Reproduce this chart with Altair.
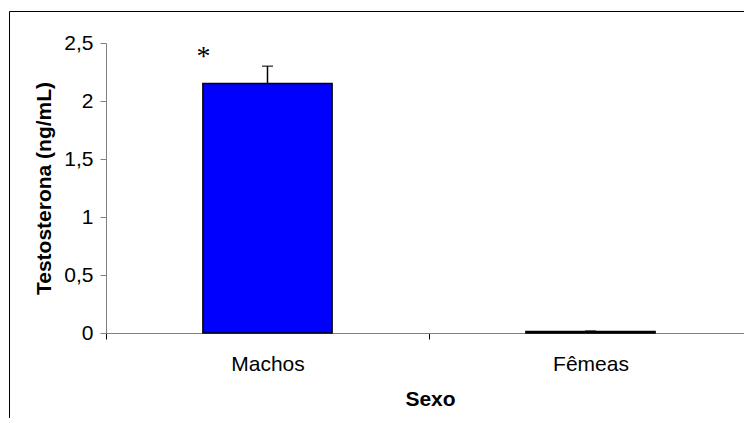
import altair as alt
import pandas as pd

categories = ["Machos", "Fêmeas"]
means = [2.15, 0.012]
errors = [0.15, 0.005]
significance = ["*", ""]
y_ticks = [0, 0.5, 1, 1.5, 2, 2.5]

df = pd.DataFrame({
    "Sexo": categories,
    "mean": means,
    "err": errors,
    "sig": significance,
})
df["upper"] = df["mean"] + df["err"]
df["sig_y"] = df["upper"] + 0.08

font = "Liberation Sans"
# the axis runs past the right edge of the window, as in the reference
x_scale = alt.Scale(paddingInner=0, paddingOuter=0, range=[0, 646])

x_enc = alt.X(
    "Sexo:N",
    sort=categories,
    scale=x_scale,
    axis=alt.Axis(
        title="Sexo",
        titleX=324,
        labelAngle=0,
        tickBand="extent",
        domainColor="#808080",
        tickColor="#000000",
        tickSize=6,
        labelPadding=14,
        labelFontSize=21,
        labelFont=font,
        labelColor="#000000",
        titleFont=font,
        titleFontSize=21,
        titleFontWeight="bold",
        titlePadding=14,
        titleColor="#000000",
    ),
)

y_scale = alt.Scale(domain=[0, 2.5], nice=False)

bars = alt.Chart(df).mark_bar(
    color="#0000FF", stroke="#000000", strokeWidth=1.5, width={"band": 0.4}
).encode(
    x=x_enc,
    y=alt.Y(
        "mean:Q",
        scale=y_scale,
        axis=alt.Axis(
            title="Testosterona (ng/mL)",
            values=y_ticks,
            grid=False,
            labelExpr="replace(toString(datum.value), '.', ',')",
            domainColor="#808080",
            tickColor="#808080",
            tickSize=6,
            labelPadding=7,
            labelFontSize=21,
            labelFont=font,
            labelColor="#000000",
            titleFont=font,
            titleFontSize=21,
            titleFontWeight="bold",
            titlePadding=9,
            titleColor="#000000",
        ),
    ),
)

err_rule = alt.Chart(df).mark_rule(color="#000000", strokeWidth=1.5).encode(
    x=alt.X("Sexo:N", sort=categories, scale=x_scale),
    y=alt.Y("mean:Q", scale=y_scale),
    y2="upper:Q",
)

err_cap = alt.Chart(df).mark_tick(
    color="#000000", thickness=1.5, size=11, orient="horizontal"
).encode(
    x=alt.X("Sexo:N", sort=categories, scale=x_scale),
    y=alt.Y("upper:Q", scale=y_scale),
)

star = alt.Chart(df).mark_text(
    font="Liberation Serif", fontSize=28, dx=-64, baseline="middle", color="#000000"
).encode(
    x=alt.X("Sexo:N", sort=categories, scale=x_scale),
    y=alt.Y("sig_y:Q", scale=y_scale),
    text="sig:N",
)

frame = alt.Chart(df.head(1)).mark_rect(
    fill=None, stroke="#000000", strokeWidth=1
).encode(
    x=alt.value(-96.5),
    x2=alt.value(900),
    y=alt.value(-31.5),
    y2=alt.value(600),
)

chart = alt.layer(frame, bars, err_rule, err_cap, star).properties(
    width=638,
    height=290,
    autosize=alt.AutoSizeParams(type="none"),
    padding={"left": 98, "top": 35, "right": 0, "bottom": 85},
    background="#ffffff",
).configure_view(stroke=None)

chart.save("out.html", embed_options={"renderer": "svg", "actions": False})
